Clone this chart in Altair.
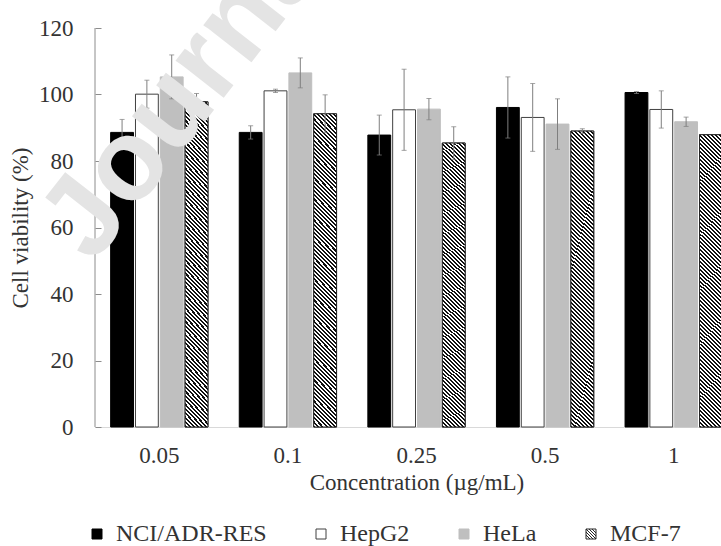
import altair as alt
import pandas as pd

# ---------------- data ----------------
concentrations = ["0.05", "0.1", "0.25", "0.5", "1"]
series_names = ["NCI/ADR-RES", "HepG2", "HeLa", "MCF-7"]
nci_values = [88.6, 88.6, 87.8, 96.1, 100.6]
nci_errors = [3.9, 2.0, 6.0, 9.2, 0.3]
hepg2_values = [100.1, 101.1, 95.4, 93.1, 95.5]
hepg2_errors = [4.2, 0.5, 12.2, 10.2, 5.6]
hela_values = [105.3, 106.5, 95.6, 91.1, 91.8]
hela_errors = [6.6, 4.5, 3.2, 7.6, 1.4]
mcf7_values = [97.8, 94.2, 85.4, 89.0, 87.9]
mcf7_errors = [2.5, 5.7, 4.9, 0.7, 0.0]
y_ticks = [0, 20, 40, 60, 80, 100, 120]
x_title = "Concentration (µg/mL)"
y_title = "Cell viability (%)"
watermark_text = "Journal Pre-proof"

values_by_series = [nci_values, hepg2_values, hela_values, mcf7_values]
errors_by_series = [nci_errors, hepg2_errors, hela_errors, mcf7_errors]
rows = []
for s, vals, errs in zip(series_names, values_by_series, errors_by_series):
    for c, v, e in zip(concentrations, vals, errs):
        rows.append({"conc": c, "series": s, "value": v, "err": e,
                     "lo": v - e, "hi": v + e, "mid": v / 2})
df = pd.DataFrame(rows)
df_err = df[df["err"] > 0]
df_hatch = df[df["series"] == "MCF-7"]

# ---------------- style ----------------
FONT = "Liberation Serif"
TXT = "#333333"
FILLS = ["#000000", "#ffffff", "#bfbfbf", "#ffffff"]
STROKES = ["#000000", "#404040", "#bfbfbf", "#262626"]
W, H = 643, 399


def hatch(n, w, h, dark="#111111"):
    lam = (w + h) / (w * w + h * h)
    stops = []
    for k in range(n):
        a, b, c = k / n, (k + 0.5) / n, (k + 1) / n
        stops += [{"offset": round(a, 5), "color": dark},
                  {"offset": round(b, 5), "color": dark},
                  {"offset": round(b, 5), "color": "#ffffff"},
                  {"offset": round(c, 5), "color": "#ffffff"}]
    return {"gradient": "linear", "x1": 0, "y1": 1,
            "x2": round(lam * w, 5), "y2": round(1 - lam * h, 5), "stops": stops}


HATCH = hatch(80, 22.5, 300)


def hatch_symbol_path():
    p = "M-1,-1H1V1H-1Z"
    for c in [-1.2, -0.6, 0.0, 0.6, 1.2]:
        y0, y1 = max(-1.0, -1.0 - c), min(1.0, 1.0 - c)
        p += f"M{round(y0 + c, 3)},{round(y0, 3)}L{round(y1 + c, 3)},{round(y1, 3)}"
    return p


SHAPES = ["square", "square", "square", hatch_symbol_path()]

x_enc = alt.X("conc:N", sort=concentrations,
              scale=alt.Scale(domain=concentrations, paddingInner=0.2434, paddingOuter=0.1217),
              axis=alt.Axis(title=x_title, labelAngle=0, ticks=False, domainColor="#d9d9d9",
                            labelPadding=17, titlePadding=4))
xo_enc = alt.XOffset("series:N", sort=series_names,
                     scale=alt.Scale(domain=series_names, paddingInner=0.08, paddingOuter=0))
y_axis = alt.Axis(title=y_title, values=y_ticks, domain=False, tickSize=6, offset=-6,
                  tickColor="#8c8c8c", labelPadding=22, grid=False, titlePadding=6)
y_scale = alt.Scale(domain=[0, 120], nice=False, zero=True)

fill_expr = ("datum.label === 'HeLa' ? '#bfbfbf' : "
             "(datum.label === 'NCI/ADR-RES' ? '#000000' : '#ffffff')")
stroke_expr = "datum.label === 'HeLa' ? '#bfbfbf' : '#000000'"
enc_basic = {"symbols": {"fill": {"value": {"expr": fill_expr}},
                         "stroke": {"value": {"expr": stroke_expr}},
                         "opacity": {"value": 1}}}
enc_min = {"symbols": {"fill": {"value": {"expr": fill_expr}},
                       "stroke": {"value": {"expr": stroke_expr}}}}


def legend_obj(encode=None):
    kw = dict(orient="none", legendX=-10, legendY=494, direction="horizontal", title=None,
              symbolType="square", symbolSize=100, labelFontSize=24, labelFont=FONT,
              labelColor=TXT, columnPadding=42, labelOffset=7, padding=0,
              symbolStrokeWidth=1, symbolStrokeColor="#000000", symbolOpacity=1,
              labelLimit=400)
    if encode is not None:
        kw["encode"] = encode
    return alt.Legend(**kw)


def build(encode=None, with_shape=True):
    leg = legend_obj(encode)
    # hidden points (drawn beneath the opaque bars) that carry the legend symbol shapes
    shape_pts = alt.Chart(df).mark_point(filled=True, size=100, color="#000000",
                                         opacity=1).encode(
        x=x_enc, xOffset=xo_enc,
        y=alt.Y("mid:Q", scale=y_scale, axis=y_axis),
        shape=alt.Shape("series:N", sort=series_names,
                        scale=alt.Scale(domain=series_names, range=SHAPES), legend=leg),
    )
    bars = alt.Chart(df).mark_bar(strokeWidth=1, opacity=1).encode(
        x=x_enc, xOffset=xo_enc,
        y=alt.Y("value:Q", scale=y_scale, axis=y_axis),
        fill=alt.Fill("series:N", sort=series_names,
                      scale=alt.Scale(domain=series_names, range=FILLS), legend=leg),
        stroke=alt.Stroke("series:N", sort=series_names,
                          scale=alt.Scale(domain=series_names, range=STROKES), legend=None),
    )
    hatched = alt.Chart(df_hatch).mark_bar(fill=HATCH, stroke="#262626", strokeWidth=1).encode(
        x=x_enc, xOffset=xo_enc,
        y=alt.Y("value:Q", scale=y_scale, axis=y_axis),
    )
    err_rule = alt.Chart(df_err).mark_rule(color="#7f7f7f", strokeWidth=1).encode(
        x=x_enc, xOffset=xo_enc,
        y=alt.Y("lo:Q", scale=y_scale, axis=y_axis), y2="hi:Q",
    )
    cap_lo = alt.Chart(df_err).mark_tick(orient="horizontal", size=5, thickness=1,
                                         color="#7f7f7f").encode(
        x=x_enc, xOffset=xo_enc, y=alt.Y("lo:Q", scale=y_scale, axis=y_axis))
    cap_hi = alt.Chart(df_err).mark_tick(orient="horizontal", size=5, thickness=1,
                                         color="#7f7f7f").encode(
        x=x_enc, xOffset=xo_enc, y=alt.Y("hi:Q", scale=y_scale, axis=y_axis))
    y_line = alt.Chart(pd.DataFrame({"k": [0]})).mark_rule(color="#8c8c8c", strokeWidth=1).encode(
        x=alt.value(0), y=alt.datum(0, scale=y_scale, axis=y_axis), y2=alt.datum(120))
    mark_wm = alt.Chart(pd.DataFrame({"t": [watermark_text]})).mark_text(
        font="Liberation Sans", fontSize=115, fontWeight="bold", color="#e4e4e4", angle=308,
        align="left", baseline="alphabetic").encode(
        text="t:N", x=alt.value(-2), y=alt.value(237))

    layers = ([shape_pts] if with_shape else []) + [bars, hatched, err_rule, cap_lo, cap_hi,
                                                     y_line, mark_wm]
    ch = alt.layer(*layers).properties(
        width=W, height=H,
        padding={"left": 95, "top": 28, "right": -17, "bottom": 119},
        autosize=alt.AutoSizeParams(type="none"),
    ).configure_view(stroke=None).configure_axis(
        labelFont=FONT, titleFont=FONT, labelFontSize=23, titleFontSize=23,
        labelColor=TXT, titleColor=TXT, titleFontWeight="normal",
    )
    return ch


chart = None
for enc, ws in ((enc_basic, True), (enc_min, True), (None, True), (enc_min, False), (None, False)):
    try:
        cand = build(enc, ws)
        cand.to_dict()
        chart = cand
        break
    except Exception:
        continue

chart.save("out.html", embed_options={"renderer": "svg", "actions": False})
